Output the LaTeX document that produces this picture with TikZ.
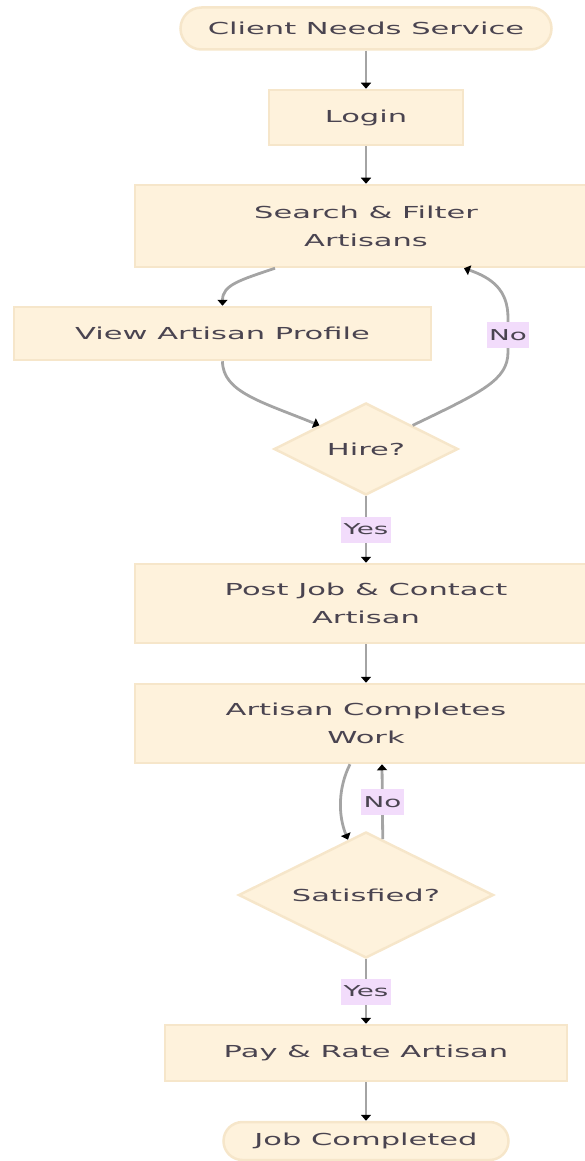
\documentclass[tikz,border=0pt]{standalone}
\usepackage{fontspec}
\setmainfont{DejaVu Sans}[FakeStretch=1.85]
\usetikzlibrary{arrows.meta,shapes.geometric,shapes.misc,calc}
\definecolor{nodefill}{HTML}{FEF2DC}
\definecolor{nodeline}{HTML}{F6E6CA}
\definecolor{edgegray}{HTML}{A4A4A4}
\definecolor{lblfill}{HTML}{F2DCFB}
\definecolor{txt}{HTML}{4A4450}

\begin{document}
\begin{tikzpicture}[x=1pt,y=-1pt,
  base/.style={draw=nodeline, line width=2.5pt, fill=nodefill, text=txt,
    font=\fontsize{16.5}{28}\selectfont, align=center, inner sep=0pt},
  procbox/.style={base, rectangle},
  termbox/.style={base, rounded rectangle},
  choice/.style={base, diamond, shape aspect=2},
  edge/.style={draw=edgegray, line width=2.8pt,
    -{Triangle[length=6pt,width=10pt,color=black]}},
  lbl/.style={fill=lblfill, text=txt, font=\fontsize{15}{18}\selectfont,
    inner xsep=2.5pt, inner ysep=0pt, minimum height=26pt}
]
\useasboundingbox (0,0) rectangle (584,1161);

% nodes
\node[termbox, minimum width=371pt, minimum height=42pt] (start) at (366,28.5) {Client Needs Service};
\node[procbox, minimum width=194pt, minimum height=55pt] (login) at (366,117.5) {Login};
\node[procbox, minimum width=462pt, minimum height=82pt] (search) at (366,226) {Search \& Filter\\Artisans};
\node[procbox, minimum width=417pt, minimum height=53pt] (view) at (222.5,333.5) {View Artisan Profile};
\node[choice, minimum width=184pt, minimum height=92pt] (hire) at (366,449) {Hire?};
\node[procbox, minimum width=462pt, minimum height=79pt] (post) at (366,603.5) {Post Job \& Contact\\Artisan};
\node[procbox, minimum width=462pt, minimum height=79pt] (work) at (366,723.5) {Artisan Completes\\Work};
\node[choice, minimum width=255pt, minimum height=126pt] (sat) at (366,895) {Satisfied?};
\node[procbox, minimum width=402pt, minimum height=56pt] (pay) at (366,1053) {Pay \& Rate Artisan};
\node[termbox, minimum width=285pt, minimum height=38pt] (done) at (366,1141) {Job Completed};

% connectors
\draw[edge] (start.south) -- (login.north);
\draw[edge] (login.south) -- (search.north);
\draw[edge] ([xshift=-91pt]search.south) .. controls (240,280) and (222.5,285) .. (view.north);
\draw[edge] (view.south) .. controls (222.5,392) and (262,402) .. (hire.north west);
\draw[edge] (hire.north east) .. controls (482,392) and (508,380) .. (508,352)
  -- node[lbl] {No} (508,318)
  .. controls (508,290) and (492,278) .. ([xshift=98pt]search.south);
\draw[edge] (hire.south) -- node[lbl] {Yes} (post.north);
\draw[edge] (post.south) -- (work.north);
\draw[edge] ([xshift=-16pt]work.south) .. controls (338,788) and (338,815) .. ($(sat.north)!0.14!(sat.west)$);
\draw[edge] ($(sat.north)!0.13!(sat.east)$) -- node[lbl] {No} ([xshift=16pt]work.south);
\draw[edge] (sat.south) -- node[lbl] {Yes} (pay.north);
\draw[edge] (pay.south) -- (done.north);
\end{tikzpicture}
\end{document}
